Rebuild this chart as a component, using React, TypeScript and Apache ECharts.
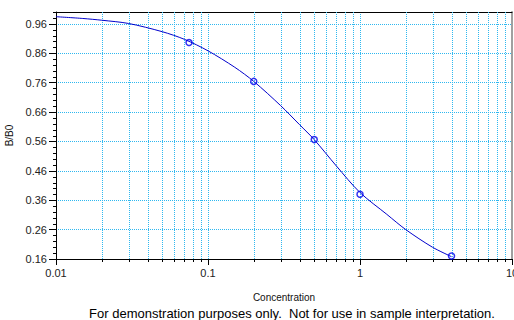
import React, { useEffect, useRef } from "react";
import * as echarts from "echarts";

// Fitted curve
const curveX = [0.01, 0.015, 0.02, 0.03, 0.05, 0.07, 0.1, 0.15, 0.2, 0.3, 0.4, 0.5, 0.7, 1.0, 1.5, 2.0, 3.0, 4.0];
const curveY = [0.984, 0.978, 0.972, 0.961, 0.933, 0.907, 0.868, 0.812, 0.764, 0.682, 0.617, 0.566, 0.476, 0.386, 0.312, 0.26, 0.2, 0.168];

// Standards
const pointX = [0.075, 0.2, 0.5, 1.0, 4.0];
const pointY = [0.896, 0.764, 0.566, 0.38, 0.17];

// Axis ticks
const yTicks = [0.16, 0.26, 0.36, 0.46, 0.56, 0.66, 0.76, 0.86, 0.96];
const yMinorTicks = [
  0.18, 0.2, 0.22, 0.24, 0.28, 0.3, 0.32, 0.34, 0.38, 0.4, 0.42, 0.44,
  0.48, 0.5, 0.52, 0.54, 0.58, 0.6, 0.62, 0.64, 0.68, 0.7, 0.72, 0.74,
  0.78, 0.8, 0.82, 0.84, 0.88, 0.9, 0.92, 0.94, 0.98, 1.0,
];
const xMinorTicks = [
  0.02, 0.03, 0.04, 0.05, 0.06, 0.07, 0.08, 0.09,
  0.2, 0.3, 0.4, 0.5, 0.6, 0.7, 0.8, 0.9,
  2, 3, 4, 5, 6, 7, 8, 9,
];
const xMin = 0.01;
const xMax = 10;
const yMin = 0.16;
const yMax = 1.0;

const xTitle = "Concentration";
const yTitle = "B/B0";
const footer = "For demonstration purposes only.  Not for use in sample interpretation.";

const FONT = "'Liberation Sans', Arial, sans-serif";
const GRID_COLOR = "#2fb8f0";

export default function App() {
  const ref = useRef<HTMLDivElement>(null);
  useEffect(() => {
    if (!ref.current) return;
    const chart = echarts.init(ref.current, undefined, { renderer: "svg" });
    const px = (v: number) => Math.round(v) + 0.5;
    chart.setOption({
      animation: false,
      textStyle: { fontFamily: FONT },
      grid: { left: 56, right: 2, top: 12, bottom: 61, containLabel: false, outerBoundsMode: "none" },
      xAxis: [
        {
          type: "log",
          logBase: 10,
          min: xMin,
          max: xMax,
          name: xTitle,
          nameLocation: "middle",
          nameGap: 33,
          nameTextStyle: { fontFamily: FONT, fontSize: 10, color: "#111" },
          axisLine: { show: true, onZero: false, lineStyle: { color: "#000", width: 1 } },
          axisTick: { show: true, length: 6, lineStyle: { color: "#000" } },
          axisLabel: {
            fontFamily: FONT,
            fontSize: 11,
            color: "#222",
            margin: 8,
            formatter: (v: number) => String(v),
          },
          splitLine: { show: true, lineStyle: { color: GRID_COLOR, type: "dotted", width: 1 } },
          minorTick: { show: false },
        },
        {
          type: "log",
          logBase: 10,
          min: xMin,
          max: xMax,
          position: "top",
          axisLine: { show: true, onZero: false, lineStyle: { color: "#000", width: 1 } },
          axisTick: { show: false },
          axisLabel: { show: false },
          splitLine: { show: false },
        },
      ],
      yAxis: [
        {
          type: "value",
          min: yMin,
          max: yMax,
          name: yTitle,
          nameLocation: "middle",
          nameGap: 40,
          nameTextStyle: { fontFamily: FONT, fontSize: 10, color: "#111" },
          axisLine: { show: true, onZero: false, lineStyle: { color: "#000", width: 1 } },
          axisTick: { show: true, length: 7, customValues: yTicks, lineStyle: { color: "#000" } },
          axisLabel: {
            fontFamily: FONT,
            fontSize: 11,
            color: "#222",
            margin: 9,
            customValues: yTicks,
            formatter: (v: number) => v.toFixed(2),
          },
          splitLine: { show: true, lineStyle: { color: GRID_COLOR, type: "dotted", width: 1 } },
        },
        {
          type: "value",
          min: yMin,
          max: yMax,
          position: "right",
          axisLine: { show: true, onZero: false, lineStyle: { color: "#a0a0a0", width: 2 } },
          axisTick: { show: false },
          axisLabel: { show: false },
          splitLine: { show: false },
        },
      ],
      series: [
        {
          type: "custom",
          silent: true,
          clip: false,
          z: 1,
          data: xMinorTicks.map((x) => [x, yMin]),
          encode: { x: 0, y: 1 },
          renderItem: (_params: any, api: any) => {
            const x = api.value(0);
            const top = api.coord([x, yMax]);
            const bot = api.coord([x, yMin]);
            const cx = px(top[0]);
            return {
              type: "group",
              children: [
                {
                  type: "line",
                  shape: { x1: cx, y1: top[1], x2: cx, y2: bot[1] },
                  style: { stroke: GRID_COLOR, lineWidth: 1, lineDash: [1, 1] },
                },
                {
                  type: "line",
                  shape: { x1: cx, y1: bot[1], x2: cx, y2: bot[1] + 3 },
                  style: { stroke: "#000", lineWidth: 1 },
                },
              ],
            };
          },
        },
        {
          type: "custom",
          silent: true,
          clip: false,
          z: 1,
          data: yMinorTicks.map((y) => [xMin, y]),
          encode: { x: 0, y: 1 },
          renderItem: (_params: any, api: any) => {
            const y = api.value(1);
            const p = api.coord([xMin, y]);
            const cy = px(p[1]);
            return {
              type: "line",
              shape: { x1: p[0] - 3, y1: cy, x2: p[0], y2: cy },
              style: { stroke: "#000", lineWidth: 1 },
            };
          },
        },
        {
          type: "line",
          data: curveX.map((x, i) => [x, curveY[i]]),
          smooth: 0.3,
          showSymbol: false,
          symbol: "none",
          z: 3,
          lineStyle: { color: "#0000cc", width: 1 },
        },
        {
          type: "scatter",
          data: pointX.map((x, i) => [x, pointY[i]]),
          symbol: "circle",
          symbolSize: 6,
          z: 4,
          itemStyle: { color: "rgba(255,255,255,0)", borderColor: "#0000ee", borderWidth: 1.5 },
        },
      ],
      graphic: [
        {
          type: "text",
          x: 292,
          y: 313,
          style: {
            text: footer,
            fontFamily: FONT,
            fontSize: 13,
            fill: "#000",
            align: "center",
            verticalAlign: "middle",
          },
        },
      ],
    });
    return () => chart.dispose();
  }, []);
  return (
    <div
      ref={ref}
      style={{ position: "fixed", left: 0, top: 0, width: 514, height: 320, background: "#fff" }}
    />
  );
}
